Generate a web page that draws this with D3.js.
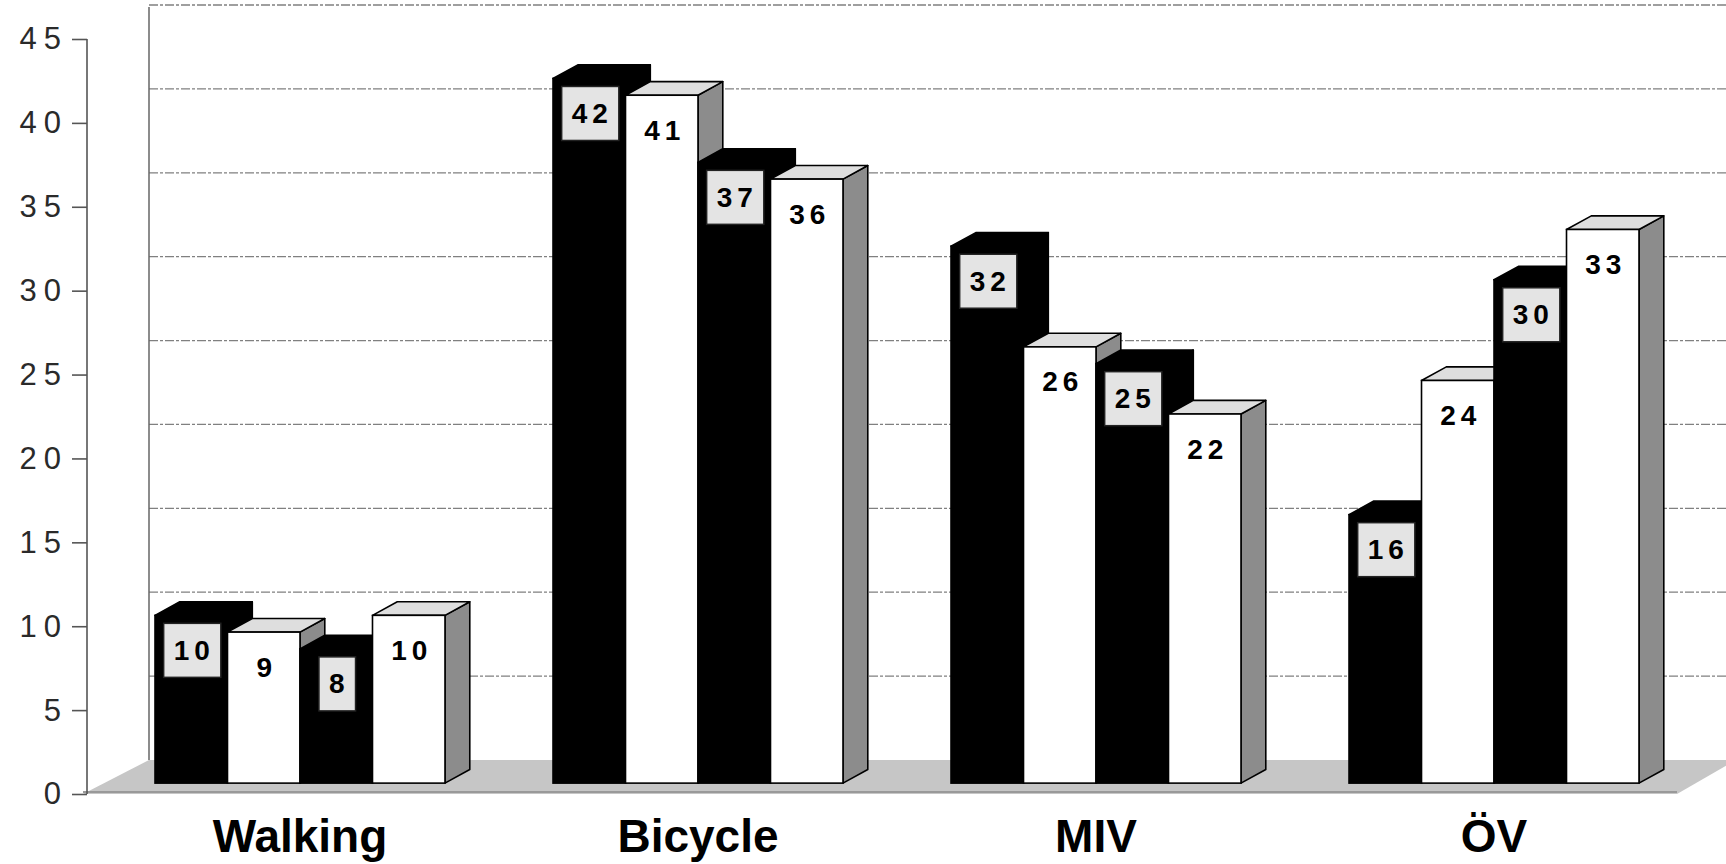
<!DOCTYPE html>
<html>
<head>
<meta charset="utf-8">
<script src="https://cdn.jsdelivr.net/npm/d3@7"></script>
<style>
  body { margin: 0; background: #fff; }
  svg { display: block; }
  .yaxis text { font-family: "Liberation Sans", Arial, sans-serif; font-size: 31px; fill: #2a2a2a; letter-spacing: 7px; }
  .yaxis path, .yaxis line { stroke: #555; stroke-width: 1.6; }
  .cat { font-family: "Liberation Sans", Arial, sans-serif; font-size: 46px; font-weight: bold; fill: #000; }
  .val { font-family: "Liberation Sans", Arial, sans-serif; font-size: 28px; font-weight: bold; fill: #000; letter-spacing: 5px; }
</style>
</head>
<body>
<div id="container"></div>
<script>
// data
let categories = ["Walking", "Bicycle", "MIV", "ÖV"];
let seriesNames = ["s1", "s2", "s3", "s4"];
let s1 = [10, 42, 32, 16];
let s2 = [9, 41, 26, 24];
let s3 = [8, 37, 25, 30];
let s4 = [10, 36, 22, 33];
let yTicks = [0, 5, 10, 15, 20, 25, 30, 35, 40, 45];

let allSeries = [s1, s2, s3, s4];
let dark = [true, false, true, false];

let W = 1726, H = 864;
// oblique depth of the whole floor
let depthX = 62, depthY = 34;
let barFront = 0.32, barBack = 0.72;

let svg = d3.select("#container").append("svg")
    .attr("width", W)
    .attr("height", H);

let yScale = d3.scaleLinear()
                .domain([0, 45])
                .range([794, 39]);

let xScale = d3.scaleBand()
                .domain(categories)
                .range([155, 1639])
                .paddingInner(0.2714)
                .paddingOuter(0);

let xInner = d3.scaleBand()
                .domain(seriesNames)
                .range([0, xScale.bandwidth()]);

let axisX = 87;
let wallX = axisX + depthX;

// floor
let y0 = yScale(0);
svg.append("polygon")
    .attr("points", [[axisX - 4, y0], [1677, y0], [W + 10, y0 - depthY], [wallX, y0 - depthY]].join(" "))
    .attr("fill", "#c6c6c6");
svg.append("line")
    .attr("x1", axisX - 4).attr("x2", 1677)
    .attr("y1", y0 - 2).attr("y2", y0 - 2)
    .attr("stroke", "#999").attr("stroke-width", 2);

// back wall gridlines
svg.append("g").selectAll("line")
    .data(yTicks.filter(d => d > 0))
    .enter().append("line")
      .attr("x1", wallX)
      .attr("x2", W)
      .attr("y1", d => yScale(d) - depthY)
      .attr("y2", d => yScale(d) - depthY)
      .attr("stroke", "#808080")
      .attr("stroke-width", 1.3)
      .attr("stroke-dasharray", "9,2,3,2");

svg.append("line")
    .attr("x1", wallX).attr("x2", wallX)
    .attr("y1", 7).attr("y2", y0 - depthY)
    .attr("stroke", "#666").attr("stroke-width", 1.5);

// y axis
let yAxis = d3.axisLeft(yScale).tickValues(yTicks).tickSize(15).tickPadding(4);
let yAxisGroup = svg.append("g").attr("class", "yaxis")
    .attr("transform", "translate(" + axisX + ",0)");
yAxisGroup.call(yAxis);
yAxisGroup.select(".domain").attr("d", "M0," + yScale(45) + "V" + yScale(0));

// bars
let offX = barFront * depthX, offY = barFront * depthY;
let ddx = (barBack - barFront) * depthX, ddy = (barBack - barFront) * depthY;

let bars = [];
categories.forEach(function(c, i) {
  seriesNames.forEach(function(s, j) {
    bars.push({cat: c, ser: s, value: allSeries[j][i], dark: dark[j]});
  });
});

let barG = svg.append("g");
bars.forEach(function(d) {
  let x = xScale(d.cat) + xInner(d.ser);
  let w = xInner.bandwidth();
  let base = yScale(0) - offY;
  let top = yScale(d.value) - offY;
  let g = barG.append("g");
  let stroke = "#000";
  // side face
  g.append("polygon")
    .attr("points", [[x + w, base], [x + w + ddx, base - ddy], [x + w + ddx, top - ddy], [x + w, top]].join(" "))
    .attr("fill", d.dark ? "#000" : "#8c8c8c")
    .attr("stroke", stroke).attr("stroke-width", 1.6).attr("stroke-linejoin", "round");
  // top face
  g.append("polygon")
    .attr("points", [[x, top], [x + w, top], [x + w + ddx, top - ddy], [x + ddx, top - ddy]].join(" "))
    .attr("fill", d.dark ? "#000" : "#dedede")
    .attr("stroke", stroke).attr("stroke-width", 1.6).attr("stroke-linejoin", "round");
  // front face
  g.append("rect")
    .attr("x", x).attr("y", top)
    .attr("width", w).attr("height", base - top)
    .attr("fill", d.dark ? "#000" : "#fff")
    .attr("stroke", stroke).attr("stroke-width", 1.6);
  d.cx = x + w / 2;
  d.top = top;
});

// value labels
let labG = svg.append("g");
bars.forEach(function(d) {
  let t = labG.append("text")
      .attr("class", "val")
      .attr("x", d.cx + 3)
      .attr("y", d.top + 35)
      .attr("text-anchor", "middle")
      .attr("dominant-baseline", "central")
      .text(d.value);
  if (d.dark) {
    let len = t.node().getComputedTextLength();
    labG.insert("rect", "text")
      .attr("x", d.cx + 1 - (len + 16) / 2)
      .attr("y", d.top + 8)
      .attr("width", len + 16)
      .attr("height", 54)
      .attr("fill", "#e4e4e4")
      .attr("stroke", "#222")
      .attr("stroke-width", 1.5);
  }
});

// category labels
svg.append("g").selectAll("text")
    .data(categories)
    .enter().append("text")
      .attr("class", "cat")
      .attr("x", d => xScale(d) + xScale.bandwidth() / 2)
      .attr("y", 852)
      .attr("text-anchor", "middle")
      .text(d => d);
</script>
</body>
</html>
